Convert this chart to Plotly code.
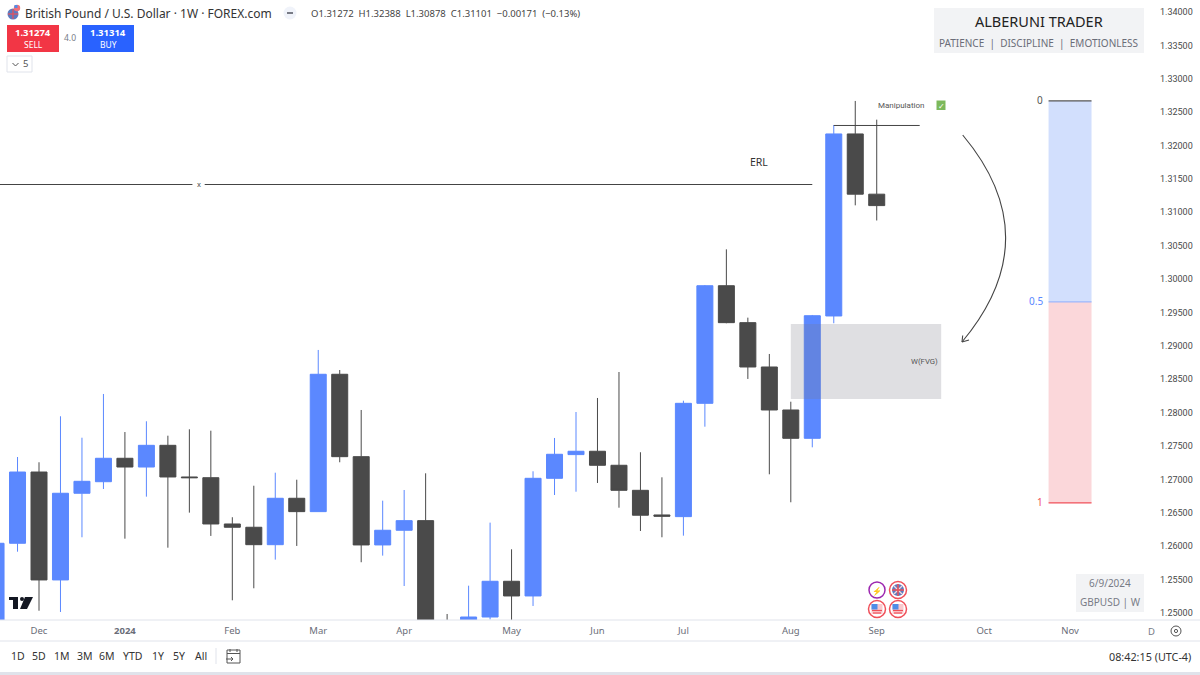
import pandas as pd
import plotly.graph_objects as go

# Weekly GBPUSD candles
week_start = pd.date_range("2023-11-19", periods=42, freq="7D")
opens = [1.2470, 1.26044, 1.27111, 1.25495, 1.26793, 1.26966, 1.27317, 1.27186, 1.27511, 1.27037,
         1.27026, 1.26333, 1.26284, 1.26023, 1.26718, 1.26518, 1.28575, 1.27341, 1.26019, 1.26239,
         1.26383, 1.2450, 1.2370, 1.2494, 1.25475, 1.25255, 1.27017, 1.27372, 1.27422, 1.27212,
         1.26837, 1.26468, 1.26443, 1.2814, 1.29901, 1.29348, 1.28684, 1.2804, 1.27616, 1.29448,
         1.32174, 1.31272]
highs = [1.2625, 1.27336, 1.27257, 1.27946, 1.27625, 1.2828, 1.2771, 1.27871, 1.27655, 1.27751,
         1.2773, 1.26434, 1.26906, 1.27101, 1.26996, 1.28939, 1.28639, 1.2804, 1.26682, 1.26842,
         1.27092, 1.24985, 1.25409, 1.26353, 1.25954, 1.27122, 1.27621, 1.2801, 1.2822, 1.28609,
         1.27407, 1.27032, 1.28179, 1.29912, 1.30446, 1.29423, 1.28879, 1.28164, 1.29463, 1.32308,
         1.32668, 1.32388]
lows = [1.2460, 1.25918, 1.25034, 1.25015, 1.26134, 1.26857, 1.26113, 1.26742, 1.25978, 1.26503,
        1.26154, 1.2519, 1.2537, 1.25799, 1.26004, 1.26518, 1.27257, 1.2576, 1.25859, 1.25404,
        1.2430, 1.2300, 1.2350, 1.24903, 1.2470, 1.25105, 1.26767, 1.26816, 1.26947, 1.26577,
        1.26228, 1.26134, 1.26158, 1.2779, 1.29339, 1.28505, 1.27077, 1.26658, 1.27481, 1.29339,
        1.31105, 1.30878]
closes = [1.26044, 1.27111, 1.25495, 1.26793, 1.26972, 1.27317, 1.27186, 1.27511, 1.27037, 1.27026,
          1.26333, 1.26284, 1.26023, 1.26718, 1.26518, 1.28575, 1.27341, 1.26019, 1.26239, 1.26383,
          1.2450, 1.2370, 1.2494, 1.25475, 1.25255, 1.27017, 1.27377, 1.27422, 1.27212, 1.26837,
          1.26464, 1.26449, 1.2814, 1.29901, 1.29348, 1.28684, 1.2804, 1.27616, 1.29452, 1.32174,
          1.31272, 1.31101]

price_ticks = [1.25, 1.255, 1.26, 1.265, 1.27, 1.275, 1.28, 1.285, 1.29, 1.295, 1.30,
               1.305, 1.31, 1.315, 1.32, 1.325, 1.33, 1.335, 1.34]
month_ticks = ["2023-12-03", "2023-12-31", "2024-02-04", "2024-03-03", "2024-03-31", "2024-05-05",
               "2024-06-02", "2024-06-30", "2024-08-04", "2024-09-01", "2024-10-06", "2024-11-03"]
month_labels = ["Dec", "<b>2024</b>", "Feb", "Mar", "Apr", "May", "Jun", "Jul", "Aug", "Sep", "Oct", "Nov"]

# Drawings on the chart
erl_price = 1.31417
manipulation_price = 1.32301
fvg_top, fvg_bottom = 1.29328, 1.28205
fib_levels = [1.32668, 1.29658, 1.26648]
fib_labels = ["0", "0.5", "1"]
range_buttons = ["1D", "5D", "1M", "3M", "6M", "YTD", "1Y", "5Y", "All"]
button_centers = [17.5, 39, 62, 85, 107, 133, 158, 179, 201]

WIDTH, HEIGHT = 1200, 675
FONT = "Noto Sans"
SMALL_FONT = "Roboto"
BLUE = "#5B88FF"
DARK = "#4A4A4A"
RULE = "#E0E3EB"
PANEL = "#F2F3F5"


def px(x):
    return x / WIDTH


def py(y):
    return 1 - y / HEIGHT


def label(fig, x, y, text, size=10, color="#4A4A4A", anchor="center", family=FONT, bg=None):
    fig.add_annotation(x=px(x), y=py(y), xref="paper", yref="paper", text=text, showarrow=False,
                       xanchor=anchor, yanchor="middle", bgcolor=bg, borderpad=0,
                       font=dict(family=family, size=size, color=color))


def box(fig, x0, y0, x1, y1, fill, line=None, width=1):
    fig.add_shape(type="rect", xref="paper", yref="paper", x0=px(x0), x1=px(x1), y0=py(y0), y1=py(y1),
                  fillcolor=fill, line=dict(color=line or fill, width=width if line else 0))


def stroke(fig, x0, y0, x1, y1, color, width=1):
    fig.add_shape(type="line", xref="paper", yref="paper", x0=px(x0), x1=px(x1), y0=py(y0), y1=py(y1),
                  line=dict(color=color, width=width))


def circle(fig, cx, cy, r, fill, line=None, width=1):
    fig.add_shape(type="circle", xref="paper", yref="paper", x0=px(cx - r), x1=px(cx + r),
                  y0=py(cy - r), y1=py(cy + r), fillcolor=fill,
                  line=dict(color=line or fill, width=width if line else 0))


def us_badge(fig, cx, cy):
    circle(fig, cx, cy, 8.5, "white", "#F0505A", 1.5)
    box(fig, cx - 5.5, cy - 5, cx + 5.5, cy + 5, "#F9C9CD")
    stroke(fig, cx - 5, cy + 1.5, cx + 5, cy + 1.5, "#F0505A", 1.2)
    stroke(fig, cx - 4, cy + 4, cx + 4, cy + 4, "#F0505A", 1.2)
    box(fig, cx - 5.5, cy - 5, cx + 0.5, cy + 0.5, "#4F8DE8")


def uk_badge(fig, cx, cy):
    circle(fig, cx, cy, 8.5, "white", "#F0505A", 1.5)
    circle(fig, cx, cy, 6, "#5C7BC0")
    stroke(fig, cx - 4, cy - 4, cx + 4, cy + 4, "#F7D5D8", 1.2)
    stroke(fig, cx - 4, cy + 4, cx + 4, cy - 4, "#F7D5D8", 1.2)
    stroke(fig, cx - 6, cy, cx + 6, cy, "#E8505A", 1.5)
    stroke(fig, cx, cy - 6, cx, cy + 6, "#E8505A", 1.5)


fig = go.Figure(go.Candlestick(
    x=week_start, open=opens, high=highs, low=lows, close=closes,
    increasing=dict(line=dict(color=BLUE, width=1), fillcolor=BLUE),
    decreasing=dict(line=dict(color=DARK, width=1), fillcolor=DARK),
    whiskerwidth=0, showlegend=False, hoverinfo="skip",
))

# ERL level with the small x marker in its gap
for x_pair in (["2023-11-10", "2024-01-22"], ["2024-01-26", "2024-08-11"]):
    fig.add_trace(go.Scatter(x=x_pair, y=[erl_price, erl_price], mode="lines", showlegend=False,
                             hoverinfo="skip", line=dict(color="#444444", width=1)))
fig.add_trace(go.Scatter(x=["2024-08-18", "2024-09-15"], y=[manipulation_price, manipulation_price],
                         mode="lines", showlegend=False, hoverinfo="skip", line=dict(color="#444444", width=1)))

# Fair value gap, drawn over the candles
fig.add_shape(type="rect", xref="x", yref="y", x0="2024-08-04", x1="2024-09-22", y0=fvg_bottom, y1=fvg_top,
              fillcolor="rgba(120,123,134,0.24)", line=dict(width=0), layer="above")

# Fib retracement block
fig.add_shape(type="rect", xref="x", yref="y", x0="2024-10-27", x1="2024-11-10", y0=fib_levels[1], y1=fib_levels[0],
              fillcolor="#D2DFFD", line=dict(width=0))
fig.add_shape(type="rect", xref="x", yref="y", x0="2024-10-27", x1="2024-11-10", y0=fib_levels[2], y1=fib_levels[1],
              fillcolor="#FBD7DA", line=dict(width=0))
fib_colors = ["#555555", "#9DB7FB", "#F0505A"]
label_colors = ["#555555", "#5B88FF", "#F0505A"]
for level, text, c, tc in zip(fib_levels, fib_labels, fib_colors, label_colors):
    fig.add_shape(type="line", xref="x", yref="y", x0="2024-10-27", x1="2024-11-10", y0=level, y1=level,
                  line=dict(color=c, width=1.2))
    fig.add_annotation(x="2024-10-27", y=level, text=text, showarrow=False, xanchor="right", xshift=-4,
                       yshift=1, font=dict(family=FONT, size=10, color=tc))

fig.add_annotation(x="2024-08-04", y=1.3175, text="ERL", showarrow=False, xanchor="center", xshift=-32,
                   font=dict(family=FONT, size=10.5, color="#333333"))
label(fig, 199, 184, "x", 8, "#555555", family=SMALL_FONT)
label(fig, 900.5, 105, "Manipulation", 8, "#555555", family=SMALL_FONT)
label(fig, 939, 361, "W(FVG)", 7.8, "#555555", "right", family=SMALL_FONT)
box(fig, 936.5, 100.5, 945.5, 110, "#7CB95B")
label(fig, 941, 105, "✓", 8, "white")

# Sweep arrow down into the gap
fig.add_shape(type="path", xref="paper", yref="paper",
              path=f"M{px(962.7):.5f},{py(135):.5f} Q{px(1048.9):.5f},{py(238):.5f} {px(962):.5f},{py(342):.5f}",
              line=dict(color="#444444", width=1.1))
stroke(fig, 962, 342, 962.7, 335.5, "#444444", 1.1)
stroke(fig, 962, 342, 969, 340, "#444444", 1.1)

# Branding panels
box(fig, 934, 8, 1144, 53, PANEL)
label(fig, 1039, 21, "ALBERUNI TRADER", 14.5, "#222222")
label(fig, 1039, 43, "PATIENCE  |  DISCIPLINE  |  EMOTIONLESS", 10, "#6A6D78")
box(fig, 1076, 574, 1144, 612, PANEL)
label(fig, 1110, 583, "6/9/2024", 10, "#787B86")
label(fig, 1110, 602, "GBPUSD | W", 10, "#787B86")

# Header
circle(fig, 13, 14, 5.5, "#5C7BC0")
stroke(fig, 8, 14, 18, 14, "#E8505A", 1.2)
stroke(fig, 13, 9, 13, 19, "#E8505A", 1.2)
circle(fig, 17, 8, 3.2, "#F0707A")
box(fig, 14.5, 5, 17.5, 8, "#4F8DE8")
label(fig, 24, 13, "British Pound / U.S. Dollar · 1W · FOREX.com", 12, "#333333", "left")
circle(fig, 290, 13, 6.5, "#F0F3FA")
stroke(fig, 287, 13, 293, 13, "#787B86", 2)
label(fig, 310, 13, "O1.31272  H1.32388  L1.30878  C1.31101  −0.00171  (−0.13%)", 9.5, "#444444", "left")

box(fig, 7, 25, 59, 52, "#F23645")
label(fig, 33, 33, "<b>1.31274</b>", 9.5, "white")
label(fig, 33, 44, "SELL", 8.5, "white")
label(fig, 70, 38, "4.0", 8.5, "#787B86")
box(fig, 82, 25, 134, 52, "#2962FF")
label(fig, 108, 33, "<b>1.31314</b>", 9.5, "white")
label(fig, 108, 44, "BUY", 8.5, "white")
box(fig, 7, 56, 32, 72, "white", RULE)
stroke(fig, 12.5, 63, 15.5, 66, "#555555")
stroke(fig, 15.5, 66, 18.5, 63, "#555555")
label(fig, 25, 64, "5", 9.5, "#555555")

# TradingView mark
box(fig, 9, 597, 18, 600, "#131722")
box(fig, 13, 597, 18, 609, "#131722")
circle(fig, 22, 599, 2, "#131722")
fig.add_shape(type="path", xref="paper", yref="paper", fillcolor="#131722", line=dict(width=0),
              path=f"M{px(25):.5f},{py(597):.5f} L{px(33):.5f},{py(597):.5f} L{px(27):.5f},{py(609):.5f} L{px(20):.5f},{py(609):.5f} Z")

# Event badges
circle(fig, 877, 590, 8, "white", "#9C27B0", 1.5)
label(fig, 877, 590, "⚡", 8, "#9C27B0")
uk_badge(fig, 898, 590)
us_badge(fig, 877, 609)
us_badge(fig, 898, 609)

# Time axis rules and bottom toolbar
stroke(fig, 0, 620, 1200, 620, RULE)
stroke(fig, 0, 641, 1200, 641, RULE)
box(fig, 0, 672, 1200, 675, RULE)
stroke(fig, 216, 648, 216, 664, RULE)
for text, center in zip(range_buttons, button_centers):
    label(fig, center, 656, text, 10.5, "#333333")
box(fig, 227, 650, 240, 663, "white", "#555555")
stroke(fig, 227, 653.5, 240, 653.5, "#555555")
stroke(fig, 230, 649, 230, 652, "#555555")
stroke(fig, 237, 649, 237, 652, "#555555")
stroke(fig, 226, 659, 233, 659, "#555555")
stroke(fig, 231, 657, 233, 659, "#555555")
stroke(fig, 231, 661, 233, 659, "#555555")
label(fig, 1192, 656, "08:42:15 (UTC-4)", 10.8, "#333333", "right")
label(fig, 1147, 631, "D", 9.5, "#787B86", "left")
circle(fig, 1176, 631, 5, "white", "#555555")
circle(fig, 1176, 631, 1.6, "white", "#555555")

fig.update_layout(
    width=WIDTH, height=HEIGHT,
    margin=dict(l=0, r=0, t=0, b=0),
    paper_bgcolor="white", plot_bgcolor="white",
    boxgap=0.255, boxgroupgap=0,
    font=dict(family=FONT, size=10, color="#4A4A4A"),
    showlegend=False,
)
fig.update_xaxes(
    domain=[0, 1146 / WIDTH],
    range=["2023-11-20 07:00", "2024-11-27 18:00"],
    rangeslider_visible=False,
    showgrid=False, zeroline=False,
    tickmode="array", tickvals=month_ticks, ticktext=month_labels,
    ticks="", tickfont=dict(family=FONT, size=9.5, color="#6A6D78"),
    ticklabelstandoff=3,
)
fig.update_yaxes(
    domain=[1 - 620 / HEIGHT, 1],
    range=[1.24895, 1.3418],
    side="right",
    showgrid=False, zeroline=False,
    tickmode="array", tickvals=price_ticks, tickformat=".5f",
    ticks="", tickfont=dict(family=SMALL_FONT, size=9, color="#4A4A4A"),
    ticklabelstandoff=13,
)

fig.write_html("out.html", config=dict(displayModeBar=False), post_script="document.body.style.margin='0'")
